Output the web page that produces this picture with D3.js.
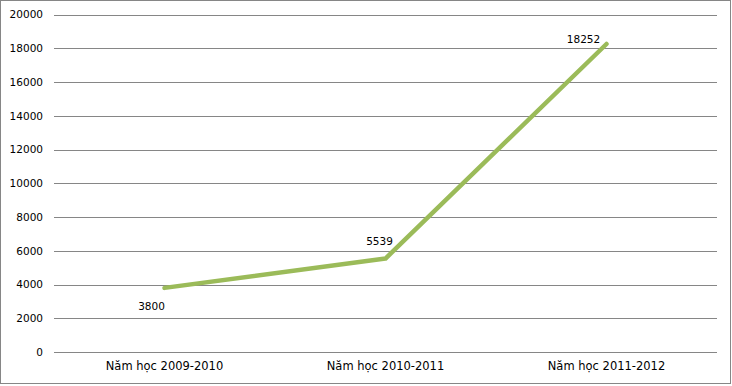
<!DOCTYPE html>
<html>
<head>
<meta charset="utf-8">
<script src="https://cdn.jsdelivr.net/npm/d3@7"></script>
<style>
  body { margin: 0; background: #fff; }
  text { font-family: "DejaVu Sans", sans-serif; fill: #000; }
</style>
</head>
<body>
<svg id="chart" width="732" height="386"></svg>
<script>
// chart data
const categories = ["Năm học 2009-2010", "Năm học 2010-2011", "Năm học 2011-2012"];
const values = [3800, 5539, 18252];
const yTicks = [0, 2000, 4000, 6000, 8000, 10000, 12000, 14000, 16000, 18000, 20000];

const svg = d3.select("#chart"),
  width = 732,
  height = 386;

// outer frame
svg.append("rect")
  .attr("x", 0.5).attr("y", 0.5)
  .attr("width", width - 2).attr("height", height - 3)
  .attr("fill", "#fff")
  .attr("stroke", "#868686");

const plot = { left: 54, right: 717, top: 14.5, bottom: 352 };

const x = d3.scaleBand()
  .domain(categories)
  .range([plot.left, plot.right]);

const y = d3.scaleLinear()
  .domain([0, 20000])
  .range([plot.bottom, plot.top]);

// gridlines
svg.append("g")
  .selectAll("line")
  .data(yTicks)
  .enter()
  .append("line")
  .attr("x1", plot.left)
  .attr("x2", plot.right)
  .attr("y1", d => Math.round(y(d)) + 0.5)
  .attr("y2", d => Math.round(y(d)) + 0.5)
  .attr("stroke", "#868686")
  .attr("stroke-width", 1);

// y axis labels
const yAxis = svg.append("g")
  .attr("transform", `translate(${plot.left - 11},0)`)
  .call(d3.axisLeft(y).tickValues(yTicks).tickSize(0).tickPadding(0).tickFormat(d3.format("d")));
yAxis.select(".domain").remove();
yAxis.selectAll("text")
  .style("font-family", "DejaVu Sans")
  .style("font-size", "10.5px");

// x axis labels
const xAxis = svg.append("g")
  .attr("transform", `translate(0,${plot.bottom})`)
  .call(d3.axisBottom(x).tickSize(0).tickPadding(10));
xAxis.select(".domain").remove();
xAxis.selectAll("text")
  .style("font-family", "DejaVu Sans")
  .style("font-size", "11.5px");

const cx = d => x(d) + x.bandwidth() / 2;

// line
const line = d3.line()
  .x((d, i) => cx(categories[i]))
  .y(d => y(d));

svg.append("path")
  .datum(values)
  .attr("d", line)
  .attr("fill", "none")
  .attr("stroke", "#9BBB59")
  .attr("stroke-width", 4.5)
  .attr("stroke-linecap", "round")
  .attr("stroke-linejoin", "round");

// data labels (Excel-style placement)
const labelOffset = [[-13, 18], [-6, -17], [-23, -5]];
svg.append("g")
  .selectAll("text")
  .data(values)
  .enter()
  .append("text")
  .attr("x", (d, i) => cx(categories[i]) + labelOffset[i][0])
  .attr("y", (d, i) => y(d) + labelOffset[i][1])
  .attr("text-anchor", "middle")
  .attr("dy", "0.35em")
  .style("font-size", "10.5px")
  .text(d => d);
</script>
</body>
</html>
